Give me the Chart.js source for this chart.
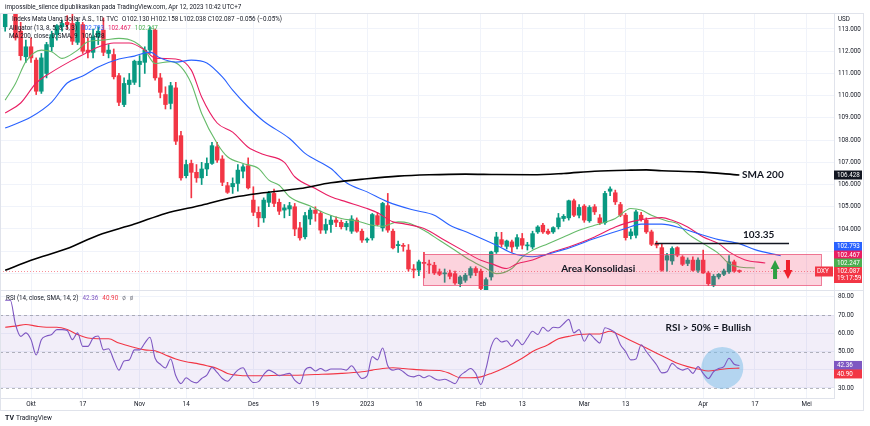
<!DOCTYPE html>
<html>
<head>
<meta charset="utf-8">
<script src="https://cdn.jsdelivr.net/npm/chart.js@4.4.0/dist/chart.umd.min.js"></script>
<style>
  html, body { margin: 0; padding: 0; background: #fff; }
  #wrap { width: 870px; height: 426px; }
</style>
</head>
<body>
<div id="wrap"><canvas id="dxy" width="870" height="426"></canvas></div>
<script>
// ---- data (bar 0 = 3 Okt 2022, one bar per trading day) ----
var firstBar = -5;
var opens = [113.1,114.1,114.0,112.9,111.75,112.2,111.6,110.2,111.0,112.2,
  112.75,113.1,113.3,113.25,112.4,113.2,112.05,111.95,112.65,112.95,
  111.9,111.85,110.9,109.6,110.5,110.6,111.4,111.5,112.05,112.95,
  110.8,110.05,109.65,110.35,108.2,106.4,106.95,106.55,106.3,106.7,
  106.95,107.7,107.15,105.95,105.9,106.05,106.6,106.85,105.3,104.75,
  104.5,105.2,105.6,105.2,104.85,104.9,105.0,104.05,103.65,104.45,
  104.85,104.7,103.95,104.2,104.4,104.3,104.1,103.9,104.4,103.9,
  103.5,103.6,104.6,104.05,105.05,103.9,103.25,103.25,103.05,102.2,
  102.15,102.5,102.4,102.37,102.07,101.98,102.02,101.99,101.54,101.69,
  101.92,102.22,102.1,101.24,101.84,102.97,103.52,103.22,103.42,103.22,
  103.57,103.24,103.19,103.87,104.17,103.9,103.87,104.1,104.47,104.5,
  105.27,104.62,105.03,104.37,105.0,104.5,104.28,105.7,105.63,105.1,
  104.62,103.7,103.72,104.62,104.4,103.87,103.34,103.16,102.6,102.56,
  103.16,102.74,102.45,102.6,102.14,102.6,102.02,101.47,101.84,101.96,
  102.07,102.52,102.13];
var highs = [114.5,114.6,114.8,113.3,112.5,112.6,111.7,111.9,112.4,112.9,
  113.2,113.4,113.6,113.9,113.4,113.3,112.6,113.0,113.1,113.5,
  112.3,112.1,111.0,110.8,111.0,111.6,111.8,112.2,113.1,113.0,
  111.0,110.4,110.6,110.6,108.4,107.1,107.1,106.9,107.0,107.2,
  107.9,107.9,107.3,106.1,106.3,106.9,106.9,107.2,105.9,105.0,
  105.4,105.7,105.8,105.35,105.1,105.2,105.15,104.3,104.75,104.95,
  105.0,104.8,104.45,104.6,104.55,104.4,104.35,104.6,104.5,104.0,
  103.6,104.7,104.75,105.2,105.6,104.0,103.45,103.35,103.3,102.4,
  102.6,102.95,102.6,102.5,102.2,102.2,102.15,102.1,101.9,102.0,
  102.3,102.3,102.2,101.8,103.0,103.85,103.85,103.5,103.5,103.75,
  103.8,103.4,103.9,104.15,104.25,104.0,104.1,104.7,104.65,105.3,
  105.35,105.1,105.1,105.05,105.1,104.65,105.7,105.9,105.75,105.2,
  104.7,104.0,104.85,104.75,104.5,103.95,103.45,103.35,102.9,103.2,
  103.2,102.8,102.7,102.75,102.7,103.05,102.1,101.95,102.0,102.2,
  102.8,102.6,102.158];
var lows = [112.9,113.7,112.5,111.6,111.5,111.5,110.05,110.1,110.8,112.0,
  112.5,112.9,113.0,112.3,112.3,111.9,111.7,111.7,112.3,111.8,
  111.7,110.75,109.55,109.5,110.1,110.5,110.4,111.0,111.9,110.7,
  109.9,109.4,109.4,107.8,106.2,106.3,105.4,106.1,106.0,106.4,
  106.9,107.0,105.95,105.6,105.6,105.7,106.3,105.8,104.6,104.1,
  104.3,105.0,105.0,104.65,104.5,104.6,103.7,103.5,103.55,104.2,
  104.35,103.8,103.8,103.85,104.1,104.0,103.95,103.8,103.85,103.4,
  103.4,103.5,104.15,103.9,103.85,103.1,102.95,103.0,102.1,101.8,
  101.9,101.8,102.0,101.95,101.9,101.6,101.75,101.5,101.4,101.6,
  101.8,101.9,101.1,100.9,101.7,102.9,103.2,103.1,102.95,103.1,
  103.1,103.05,103.1,103.8,103.8,103.75,103.8,104.0,104.35,104.4,
  104.55,104.5,104.3,104.3,104.65,104.2,104.2,105.5,105.1,104.55,
  103.5,103.55,103.6,104.35,103.8,103.25,103.15,102.1,102.1,102.4,
  102.75,102.35,102.35,102.1,102.05,102.0,101.45,101.4,101.75,101.9,
  102.0,102.05,102.038];
var closes = [114.1,114.05,112.6,111.8,112.2,111.7,110.2,111.7,112.3,112.75,
  113.15,113.25,113.2,112.45,113.3,112.0,111.95,112.65,112.9,111.95,
  112.05,110.85,109.7,110.55,110.7,111.55,111.55,112.05,112.95,110.8,
  110.15,109.6,110.45,107.95,106.3,106.9,106.55,106.3,106.7,106.95,
  107.75,107.1,106.1,105.65,106.05,106.65,106.8,105.85,104.75,104.5,
  105.3,105.6,105.15,104.8,104.95,105.05,104.0,103.6,104.6,104.85,
  104.7,103.95,104.2,104.4,104.3,104.1,104.25,104.45,103.9,103.5,
  103.52,104.65,104.2,105.15,103.95,103.15,103.3,103.22,102.2,102.15,
  102.52,102.45,102.38,102.02,101.96,102.0,101.87,101.57,101.84,101.92,
  102.22,102.04,101.32,101.72,102.97,103.64,103.31,103.46,103.19,103.61,
  103.27,103.25,103.79,104.09,103.87,103.8,104.06,104.5,104.57,105.27,
  104.62,104.97,104.4,104.97,104.77,104.28,105.6,105.8,105.22,104.62,
  103.61,103.87,104.77,104.43,103.87,103.31,103.27,102.14,102.8,103.12,
  102.82,102.41,102.6,102.14,102.6,102.02,101.54,101.87,101.96,102.11,
  102.52,102.11,102.087];

// Alligator lines and SMA 200, read at sampled bars
var jawBars = [-5,0,4,7,10,13,17,20,23,25,28,31,34,37,39,42,45,50,53,58,61,65,69,74,78,81,85,90,93,97,103,109,115,118,122,126,129,133,137,140,145];
var jawValues = [108.54,109.04,109.71,110.57,110.88,111.29,111.65,111.78,111.96,111.69,111.51,111.6,111.47,110.84,110.25,109.49,108.85,108.07,107.4,106.72,106.08,105.67,105.22,104.85,104.62,104.17,103.79,103.27,102.92,102.75,103.07,103.57,104.02,104.22,104.22,104.02,103.79,103.52,103.34,103.07,102.793];
var teethBars = [-5,-2,1,4,8,11,13,16,19,22,24,28,31,33,36,39,42,45,49,51,55,58,61,65,67,70,72,76,80,84,87,89,92,94,97,100,104,109,113,116,118,122,124,127,130,133,135,138,142];
var teethValues = [109.22,109.67,110.57,111.06,111.6,111.96,112.19,112.37,112.37,112.05,111.69,111.65,111.15,109.94,108.77,108.36,107.68,107.35,107.0,106.35,105.82,105.45,105.22,104.92,104.73,104.32,104.24,104.02,103.49,102.97,102.59,102.44,102.22,102.44,102.6,102.89,103.19,103.64,104.09,104.32,104.42,104.51,104.39,104.09,103.64,103.34,102.97,102.62,102.467];
var lipsBars = [-5,-3,-1,2,4,6,9,11,14,17,20,22,24,27,29,31,33,36,38,41,44,46,48,50,54,57,60,63,66,68,71,73,76,79,82,85,88,90,93,95,97,100,103,106,109,113,116,118,120,123,125,127,130,133,135,137,140];
var lipsValues = [109.8,110.55,111.53,112.05,111.98,111.68,112.05,112.43,112.5,112.58,112.43,112.05,111.45,111.53,111.3,110.55,109.2,107.85,107.25,106.95,106.72,106.2,105.97,105.45,105.03,104.7,104.47,104.36,104.17,104.12,104.32,104.27,103.94,103.49,103.04,102.59,102.22,101.99,102.22,102.74,103.04,103.34,103.64,103.94,104.17,104.47,104.92,104.85,104.62,104.36,104.24,103.79,103.34,102.89,102.44,102.29,102.247];
var smaBars = [-5,0,7,13,20,26,33,39,45,52,58,65,71,77,84,90,97,103,109,116,119,122,129,137];
var smaValues = [102.14,102.59,103.12,103.72,104.22,104.7,105.07,105.42,105.63,105.82,106.08,106.26,106.38,106.44,106.47,106.45,106.44,106.5,106.6,106.65,106.66,106.62,106.57,106.428];

// RSI (14) one value per bar, and its SMA (14) read at sampled bars
var rsiValues = [78.1,78.1,64.8,58.3,60.2,56.5,48.1,56.5,58.5,59.3,
  62.0,62.0,61.5,56.5,60.2,52.8,52.8,57.4,58.5,50.9,
  51.5,45.4,39.8,44.8,45.4,50.9,50.9,54.6,57.8,46.3,
  43.0,41.0,45.9,36.7,32.4,35.6,33.7,32.8,35.2,37.0,
  41.3,38.5,35.2,33.7,36.7,39.8,41.1,36.1,33.0,33.5,
  37.4,39.8,38.5,36.7,37.4,38.0,34.3,32.4,39.8,41.3,
  39.3,40.7,39.3,40.4,40.4,40.4,39.8,42.2,38.5,35.2,
  36.7,47.2,45.4,51.9,42.2,39.8,40.4,38.9,36.7,36.1,
  37.0,35.6,36.7,35.2,34.3,34.8,33.7,32.4,36.7,38.9,
  40.7,38.0,31.9,40.7,52.8,57.4,55.2,55.9,52.8,56.5,
  53.7,57.4,61.1,59.3,63.3,61.1,63.3,63.0,65.2,67.6,
  60.2,62.0,55.6,59.6,57.0,54.6,63.0,62.0,60.2,53.7,
  50.0,45.4,45.9,53.7,50.0,46.3,42.6,38.3,38.9,43.5,
  41.1,39.8,40.7,38.0,41.7,38.0,35.2,38.9,40.7,41.7,
  46.3,43.0,42.36];
var rsiMaBars = [-5,-3,-1,1,3,5,7,9,11,13,15,17,20,22,24,26,28,30,32,34,36,38,40,42,45,48,51,55,60,64,66,68,70,72,74,76,79,81,83,85,87,89,92,95,97,100,102,104,106,108,110,112,113,115,117,119,121,123,125,127,129,131,133,135,137];
var rsiMaValues = [63.3,63.9,64.8,63.9,63.3,63.3,62.0,59.3,57.4,57.0,57.0,54.6,52.2,50.9,50.4,48.1,45.9,44.4,43.5,42.2,40.7,38.0,37.0,36.7,36.7,37.0,37.0,37.4,38.0,38.9,39.8,40.7,41.1,40.7,40.2,39.8,39.6,38.0,35.6,35.6,36.1,38.0,41.7,46.3,50.0,53.7,57.0,58.3,59.3,59.6,59.6,61.1,60.2,57.4,54.6,51.9,49.1,46.3,43.5,41.7,40.4,39.3,40.0,40.7,40.9];

// axes
var tickBars = [0,10,21,30,43,55,65,75,87,95,107,115,130,140,150];
var tickLabels = ['Okt','17','Nov','14','Des','19','2023','16','Feb','13','Mar','13','Apr','17','Mei'];
var priceTicks = [102,103,104,105,106,107,108,109,110,111,112,113];
var rsiTicks = [30,40,50,60,70,80];

// drawings
var levelPrice = 103.35, levelBars = [120.7, 146.6];
var zoneBars = [75.8, 152.8], zonePrices = [101.47, 102.86];
var arrowBars = [143.9, 146.4], arrowPrices = [102.6, 101.75];
var circleBar = 133.7, circleRsi = 41;
var lastPrice = 102.087, jawLast = 102.793, teethLast = 102.467, lipsLast = 102.247, smaLast = 106.428;
var rsiLast = 42.36, rsiMaLast = 40.90;

var upColor = '#089981', downColor = '#F23645';
var textColor = '#131722';
var fontFamily = 'Roboto, "Liberation Sans", sans-serif';

function pairs(xs, ys) {
  return xs.map(function (b, i) { return {x: b, y: ys[i]}; });
}

var candleBars = opens.map(function (o, i) { return firstBar + i; });
var candleColors = opens.map(function (o, i) { return closes[i] >= o ? upColor : downColor; });

var wickData = candleBars.map(function (b, i) { return {x: b, y: [lows[i], highs[i]]}; });
var bodyData = candleBars.map(function (b, i) { return {x: b, y: [opens[i], closes[i]]}; });
var rsiData = rsiValues.map(function (v, i) { return {x: firstBar + i, y: v}; });

function lineSet(data, color, width, axis, order) {
  return {
    type: 'line', data: data, yAxisID: axis, borderColor: color, borderWidth: width,
    pointRadius: 0, tension: 0.35, cubicInterpolationMode: 'monotone', order: order, clip: 0
  };
}

function label(ctx, y, text, bg, h) {
  ctx.fillStyle = bg;
  ctx.fillRect(834, y - 4.5, 28, h || 9);
  ctx.fillStyle = '#fff';
  ctx.fillText(text, 837, y);
}

function spans(ctx, x, y, parts) {
  parts.forEach(function (p) {
    ctx.fillStyle = p[1];
    ctx.fillText(p[0], x, y);
    x += ctx.measureText(p[0]).width + 4;
  });
}

function arrow(ctx, cx, yTop, yBottom, up, color) {
  var head = 9, hw = 4.5, sw = 2;
  ctx.fillStyle = color;
  ctx.beginPath();
  if (up) {
    ctx.moveTo(cx, yTop);
    ctx.lineTo(cx + hw, yTop + head);
    ctx.lineTo(cx + sw, yTop + head);
    ctx.lineTo(cx + sw, yBottom);
    ctx.lineTo(cx - sw, yBottom);
    ctx.lineTo(cx - sw, yTop + head);
    ctx.lineTo(cx - hw, yTop + head);
  } else {
    ctx.moveTo(cx, yBottom);
    ctx.lineTo(cx + hw, yBottom - head);
    ctx.lineTo(cx + sw, yBottom - head);
    ctx.lineTo(cx + sw, yTop);
    ctx.lineTo(cx - sw, yTop);
    ctx.lineTo(cx - sw, yBottom - head);
    ctx.lineTo(cx - hw, yBottom - head);
  }
  ctx.closePath();
  ctx.fill();
}

var drawings = {
  id: 'drawings',
  beforeDatasetsDraw: function (chart) {
    var ctx = chart.ctx, a = chart.chartArea, x = chart.scales.x, y = chart.scales.y, r = chart.scales.rsi;
    ctx.save();
    // RSI band and levels
    var y70 = r.getPixelForValue(70), y30 = r.getPixelForValue(30);
    ctx.fillStyle = 'rgba(126,87,194,0.1)';
    ctx.fillRect(a.left, y70, a.right - a.left, y30 - y70);
    ctx.strokeStyle = 'rgba(120,123,134,0.55)';
    ctx.lineWidth = 1;
    ctx.setLineDash([3, 3]);
    [70, 50, 30].forEach(function (v) {
      var py = Math.round(r.getPixelForValue(v)) + 0.5;
      ctx.beginPath(); ctx.moveTo(a.left, py); ctx.lineTo(a.right, py); ctx.stroke();
    });
    // highlight circle
    ctx.setLineDash([]);
    ctx.fillStyle = 'rgba(120,190,232,0.5)';
    ctx.beginPath();
    ctx.arc(x.getPixelForValue(circleBar), r.getPixelForValue(circleRsi), 21, 0, Math.PI * 2);
    ctx.fill();
    // last price line
    var py = Math.round(y.getPixelForValue(lastPrice)) + 0.5;
    ctx.strokeStyle = 'rgba(242,54,69,0.55)';
    ctx.setLineDash([1, 2]);
    ctx.beginPath(); ctx.moveTo(a.left, py); ctx.lineTo(a.right, py); ctx.stroke();
    ctx.restore();
  },
  afterDatasetsDraw: function (chart) {
    var ctx = chart.ctx, x = chart.scales.x, y = chart.scales.y, r = chart.scales.rsi;
    ctx.save();
    // consolidation zone
    var zx0 = x.getPixelForValue(zoneBars[0]), zx1 = x.getPixelForValue(zoneBars[1]);
    var zy0 = y.getPixelForValue(zonePrices[1]), zy1 = y.getPixelForValue(zonePrices[0]);
    ctx.fillStyle = 'rgba(242,54,100,0.22)';
    ctx.fillRect(zx0, zy0, zx1 - zx0, zy1 - zy0);
    ctx.strokeStyle = 'rgba(232,70,110,0.7)';
    ctx.lineWidth = 1;
    ctx.strokeRect(Math.round(zx0) + 0.5, Math.round(zy0) + 0.5, Math.round(zx1 - zx0), Math.round(zy1 - zy0));
    // arrows
    arrow(ctx, x.getPixelForValue(arrowBars[0]), y.getPixelForValue(arrowPrices[0]), y.getPixelForValue(arrowPrices[1]), true, '#2EA043');
    arrow(ctx, x.getPixelForValue(arrowBars[1]), y.getPixelForValue(arrowPrices[0]), y.getPixelForValue(arrowPrices[1]), false, '#F0202C');
    // annotation texts
    ctx.fillStyle = textColor;
    ctx.textBaseline = 'middle';
    ctx.font = 'bold 10px Lato, sans-serif';
    ctx.textAlign = 'left';
    ctx.fillText('SMA 200', x.getPixelForValue(137.5), y.getPixelForValue(106.43));
    ctx.fillText('103.35', x.getPixelForValue(137.7), y.getPixelForValue(103.73));
    ctx.textAlign = 'center';
    ctx.fillText('Area Konsolidasi', x.getPixelForValue(109.7), y.getPixelForValue(102.2));
    ctx.fillText('RSI > 50% = Bullish', x.getPixelForValue(131), r.getPixelForValue(62.9));
    ctx.restore();
  },
  afterDraw: function (chart) {
    var ctx = chart.ctx, y = chart.scales.y, r = chart.scales.rsi;
    ctx.save();
    // frame and pane separators
    ctx.strokeStyle = '#e0e3eb';
    ctx.lineWidth = 1;
    ctx.strokeRect(0.5, 13.5, 863, 397);
    var sep = Math.round(r.top) + 0.5;
    ctx.beginPath(); ctx.moveTo(0, sep); ctx.lineTo(864, sep); ctx.stroke();

    ctx.textBaseline = 'middle';
    ctx.textAlign = 'left';
    ctx.font = '6.3px ' + fontFamily;
    // right axis labels
    label(ctx, y.getPixelForValue(smaLast), smaLast.toFixed(3), '#131722');
    var yc = y.getPixelForValue(lastPrice);
    label(ctx, yc - 25, jawLast.toFixed(3), '#2962FF');
    label(ctx, yc - 16.5, teethLast.toFixed(3), '#E91E63');
    label(ctx, yc - 8.5, lipsLast.toFixed(3), '#4CAF50');
    label(ctx, yc, lastPrice.toFixed(3), '#F23645', 16);
    ctx.fillText('19:17:59', 837, yc + 7);
    ctx.fillStyle = '#F23645';
    ctx.fillRect(815, yc - 5, 18, 10);
    ctx.fillStyle = '#fff';
    ctx.fillText('DXY', 817, yc);
    var yr = r.getPixelForValue(rsiLast);
    label(ctx, yr, rsiLast.toFixed(2), '#7E57C2');
    label(ctx, yr + 8.5, rsiMaLast.toFixed(2), '#F23645');
    ctx.fillStyle = textColor;
    ctx.fillText('USD', 838, 19);

    // legends
    ctx.fillText('impossible_silence dipublikasikan pada TradingView.com, Apr 12, 2023 10:42 UTC+7', 5, 7);
    spans(ctx, 12, 19.5, [['Indeks Mata Uang Dollar A.S., 1D, TVC', textColor],
      ['O102.130 H102.158 L102.038 C102.087 \u22120.056 (\u22120.05%)', textColor]]);
    spans(ctx, 9, 28, [['Alligator (13, 8, 5, 8, 5, 3)', textColor], [jawLast.toFixed(3), '#2962FF'],
      [teethLast.toFixed(3), '#E91E63'], [lipsLast.toFixed(3), '#4CAF50']]);
    spans(ctx, 9, 36.5, [['MA 200, close, 0, SMA, 9', textColor], [smaLast.toFixed(3), textColor]]);
    spans(ctx, 6, r.top + 8, [['RSI (14, close, SMA, 14, 2)', textColor], [rsiLast.toFixed(2), '#7E57C2'],
      [rsiMaLast.toFixed(2), '#F23645'], ['\u00f8', '#787b86'], ['\u00f8', '#787b86']]);

    // logo
    ctx.fillStyle = textColor;
    ctx.font = 'bold 7px ' + fontFamily;
    ctx.fillText('TV', 5, 418);
    ctx.font = '6.5px ' + fontFamily;
    ctx.fillText('TradingView', 16, 418);
    ctx.restore();
  }
};

new Chart(document.getElementById('dxy'), {
  type: 'bar',
  data: {
    datasets: [
      lineSet(pairs(smaBars, smaValues), '#000000', 1.6, 'y', 1),
      lineSet(pairs(jawBars, jawValues), '#2962FF', 1.1, 'y', 2),
      lineSet(pairs(teethBars, teethValues), '#E91E63', 1.1, 'y', 2),
      lineSet(pairs(lipsBars, lipsValues), '#66BB6A', 1.1, 'y', 2),
      { type: 'line', data: [{x: levelBars[0], y: levelPrice}, {x: levelBars[1], y: levelPrice}], yAxisID: 'y',
        borderColor: '#131722', borderWidth: 1.5, pointRadius: 0, order: 1 },
      { type: 'bar', data: bodyData, yAxisID: 'y', backgroundColor: candleColors, barThickness: 3.8,
        minBarLength: 1, grouped: false, order: 4, clip: 0 },
      { type: 'bar', data: wickData, yAxisID: 'y', backgroundColor: candleColors, barThickness: 1,
        grouped: false, order: 5, clip: 0 },
      lineSet(rsiData, '#7E57C2', 1.1, 'rsi', 2),
      lineSet(pairs(rsiMaBars, rsiMaValues), '#F23645', 1.1, 'rsi', 3)
    ]
  },
  options: {
    responsive: false,
    devicePixelRatio: 1,
    animation: false,
    layout: { padding: { top: 13, right: 6, bottom: 15, left: 0 } },
    plugins: { legend: { display: false }, tooltip: { enabled: false } },
    scales: {
      x: {
        type: 'linear', min: -6, max: 155.3, offset: false,
        grid: { color: '#f0f3fa', drawTicks: false, offset: false },
        border: { color: '#e0e3eb' },
        ticks: {
          font: { size: 6.3, family: fontFamily }, color: textColor, padding: 3,
          autoSkip: false, maxRotation: 0,
          callback: function (v) { var i = tickBars.indexOf(v); return i < 0 ? '' : tickLabels[i]; }
        },
        afterBuildTicks: function (s) { s.ticks = tickBars.map(function (v) { return {value: v}; }); },
        afterFit: function (s) { s.height = 13; }
      },
      y: {
        type: 'linear', position: 'right', stack: 'panes', stackWeight: 277,
        min: 101.254, max: 113.72,
        grid: { color: '#f0f3fa', drawTicks: false },
        border: { color: '#e0e3eb' },
        ticks: {
          font: { size: 6.3, family: fontFamily }, color: textColor, padding: 4,
          callback: function (v) { return v >= 104 ? v.toFixed(3) : ''; }
        },
        afterBuildTicks: function (s) { s.ticks = priceTicks.map(function (v) { return {value: v}; }); },
        afterFit: function (s) { s.width = 30; }
      },
      rsi: {
        type: 'linear', position: 'right', stack: 'panes', stackWeight: 108,
        min: 24.52, max: 83.7,
        grid: { color: '#f0f3fa', drawTicks: false },
        border: { color: '#e0e3eb' },
        ticks: {
          font: { size: 6.3, family: fontFamily }, color: textColor, padding: 4,
          callback: function (v) { return v === 40 ? '' : v.toFixed(2); }
        },
        afterBuildTicks: function (s) { s.ticks = rsiTicks.map(function (v) { return {value: v}; }); },
        afterFit: function (s) { s.width = 30; }
      }
    }
  },
  plugins: [drawings]
});
</script>
</body>
</html>
